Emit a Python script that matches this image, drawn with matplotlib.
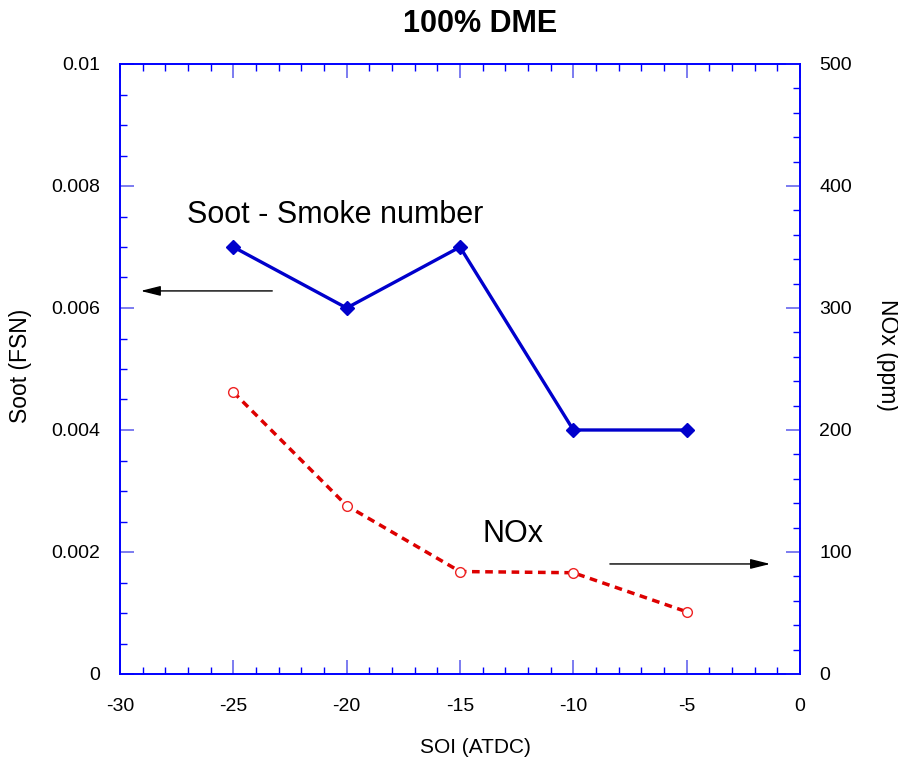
import matplotlib
matplotlib.use('Agg')
import matplotlib.pyplot as plt
from matplotlib.ticker import MultipleLocator

plt.rcParams['font.family'] = ['Liberation Sans', 'DejaVu Sans']

# SOI sweep for 100% DME
soi = [-25, -20, -15, -10, -5]
soot_fsn = [0.007, 0.006, 0.007, 0.004, 0.004]
nox_ppm = [231, 138, 84, 83, 51]

x_ticks = [-30, -25, -20, -15, -10, -5, 0]
x_labels = ['-30', '-25', '-20', '-15', '-10', '-5', '0']
soot_ticks = [0, 0.002, 0.004, 0.006, 0.008, 0.01]
soot_labels = ['0', '0.002', '0.004', '0.006', '0.008', '0.01']

frame_blue = '#0000ff'
tick_blue = '#6666ee'

fig = plt.figure(figsize=(8.98, 7.6), dpi=100)
ax = fig.add_axes([120 / 898, 1 - 674 / 760, 680 / 898, 610 / 760])
ax2 = ax.twinx()

ax.plot(soi, soot_fsn, color='#0000cc', lw=2.4, marker='D', ms=7.5, zorder=3)
ax2.plot(soi, nox_ppm, color='#dd0000', lw=2.5, ls=(0, (2.2, 1.6)),
         marker='o', ms=7, mfc='white', mec='#ee2222', mew=1.0)

ax.set_xlim(-30, 0)
ax.set_ylim(0, 0.01)
ax2.set_ylim(0, 500)

ax.set_xticks(x_ticks)
ax.set_xticklabels(x_labels)
ax.set_yticks(soot_ticks)
ax.set_yticklabels(soot_labels)
ax.xaxis.set_minor_locator(MultipleLocator(1))
ax.yaxis.set_minor_locator(MultipleLocator(0.0005))
ax2.yaxis.set_major_locator(MultipleLocator(100))
ax2.yaxis.set_minor_locator(MultipleLocator(20))

for a in (ax, ax2):
    for s in a.spines.values():
        s.set_color(frame_blue)
        s.set_linewidth(1.2)
    a.tick_params(which='major', direction='in', length=10, width=1.2,
                  color=tick_blue, labelsize=14, pad=14)
    a.tick_params(which='minor', direction='in', length=5, width=1.0,
                  color=frame_blue)
ax.tick_params(axis='x', which='both', top=True)
ax.tick_params(axis='x', which='major', pad=17.5)

ax.set_xlabel('SOI (ATDC)', fontsize=15, va='center')
ax.xaxis.set_label_coords(0.522, -0.12)
ax.set_ylabel('Soot (FSN)', fontsize=16.5, va='center')
ax.yaxis.set_label_coords(-0.147, 0.505)
ax2.set_ylabel('NOx (ppm)', fontsize=16.5, rotation=270, va='center')
ax2.yaxis.set_label_coords(1.128, 0.523)
ax.set_title('100% DME', fontsize=22, fontweight='bold', pad=23, x=0.529)

ax.text(-27.04, 0.00739, 'Soot - Smoke number', fontsize=22, va='baseline')
ax.annotate('', xy=(-29.21, 0.00628), xytext=(-23.16, 0.00628),
            arrowprops=dict(arrowstyle='-|>,head_length=1.2,head_width=0.3',
                            color='black', lw=1))
ax.text(-13.99, 0.00217, 'NOx', fontsize=22, va='baseline')
ax2.annotate('', xy=(-1.19, 90.2), xytext=(-8.51, 90.2),
             arrowprops=dict(arrowstyle='-|>,head_length=1.2,head_width=0.3',
                             color='black', lw=1))

fig.savefig('out.png', dpi=100)
